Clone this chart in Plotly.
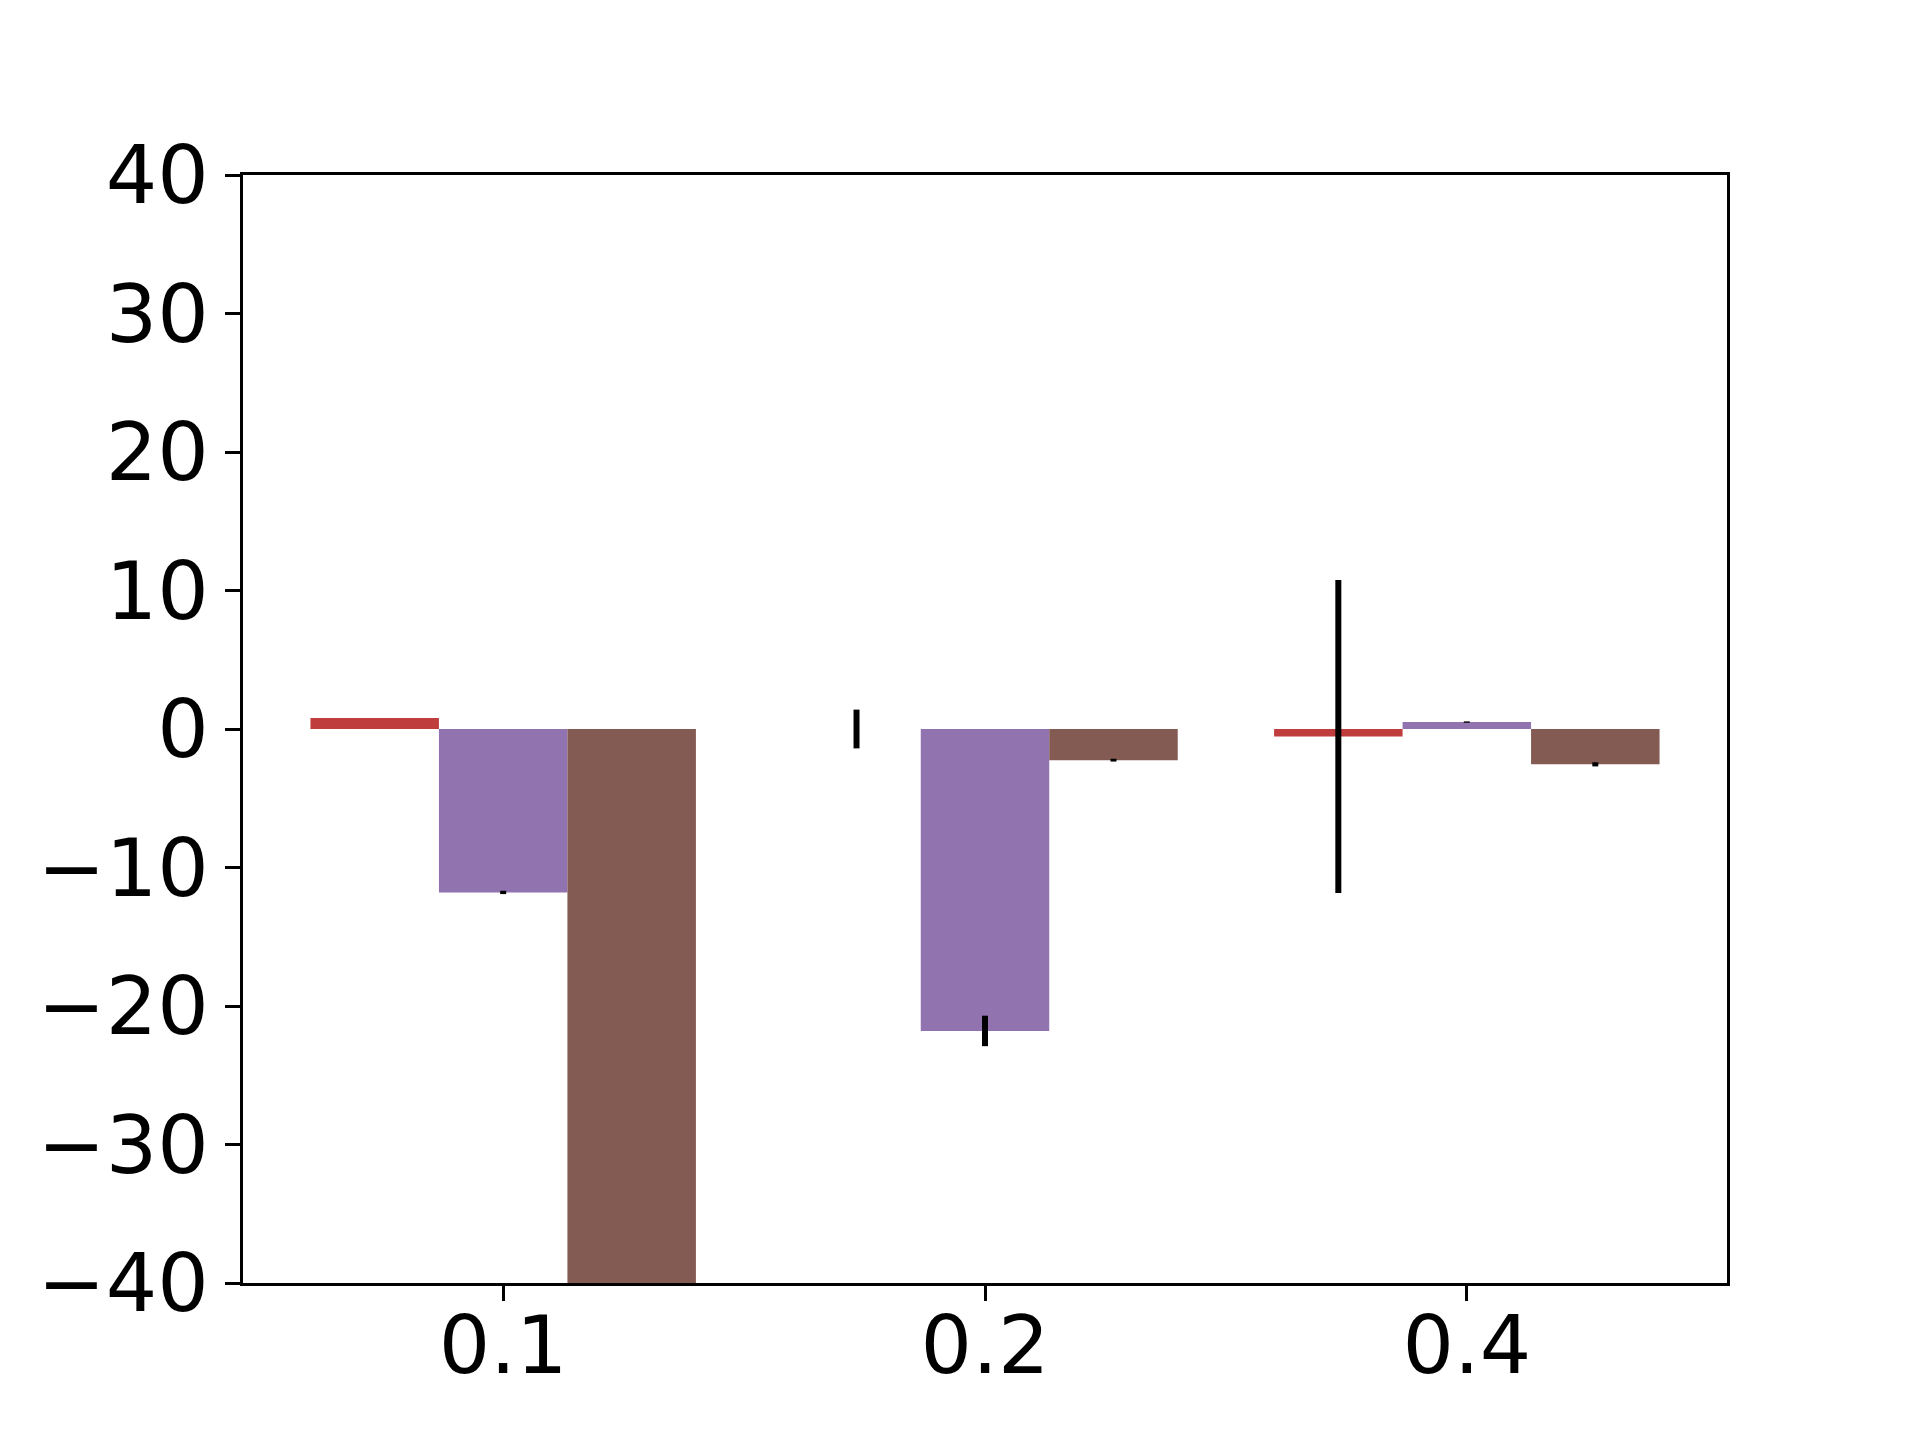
import plotly.graph_objects as go

categories = ["0.1", "0.2", "0.4"]
red_vals = [0.8, 0.0, -0.55]
red_err = [0.0, 1.4, 11.3]
purple_vals = [-11.8, -21.8, 0.5]
purple_err = [0.12, 1.1, 0.05]
brown_vals = [-46.0, -2.25, -2.55]
brown_err = [0.05, 0.1, 0.15]

colors = ["#C03D3E", "#9173B0", "#835B52"]
series = [(red_vals, red_err), (purple_vals, purple_err), (brown_vals, brown_err)]

fig = go.Figure()
for (vals, errs), c in zip(series, colors):
    fig.add_trace(go.Bar(
        x=categories, y=vals,
        marker=dict(color=c, line=dict(width=0)),
        error_y=dict(type="data", array=errs, visible=True, color="black",
                     thickness=6, width=0),
        showlegend=False,
    ))

fig.update_layout(
    width=1920, height=1440,
    barmode="group", bargap=0.2, bargroupgap=0,
    plot_bgcolor="white", paper_bgcolor="white",
    margin=dict(l=235, r=201, t=167, b=165, pad=0),
    font=dict(family="DejaVu Sans", size=81, color="black"),
)
fig.update_xaxes(
    type="category", range=[-0.54, 2.54],
    showline=True, linecolor="black", linewidth=3, mirror=True,
    ticks="outside", ticklen=15, tickwidth=3, tickcolor="black",
    showgrid=False, zeroline=False, ticklabelstandoff=-25,
)
fig.update_yaxes(
    range=[-40, 40], tickvals=[-40, -30, -20, -10, 0, 10, 20, 30, 40],
    showline=True, linecolor="black", linewidth=3, mirror=True,
    ticks="outside", ticklen=15, tickwidth=3, tickcolor="black",
    showgrid=False, zeroline=False, ticklabelstandoff=0,
)
fig.write_html("out.html")
